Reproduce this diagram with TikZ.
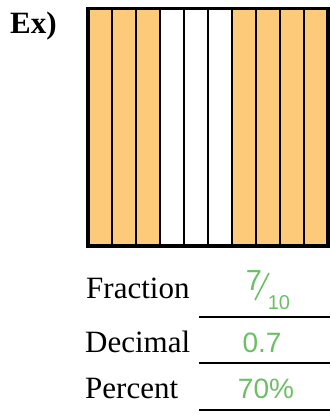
\documentclass[tikz,border=0pt]{standalone}
\usepackage{fontspec}
\setmainfont{Liberation Serif}
\newfontfamily\valfont{Liberation Sans}
\definecolor{barorange}{RGB}{253,202,122}
\definecolor{valgreen}{RGB}{108,190,103}
\tikzset{
  lbl/.style={anchor=base west,inner sep=0pt,font=\fontsize{31}{36}\selectfont},
  val/.style={anchor=base,inner sep=0pt,text=valgreen,font=\valfont\fontsize{28}{33}\selectfont},
  rule/.style={line width=1.8pt}
}
\begin{document}
\begin{tikzpicture}[x=1pt,y=-1pt]
  \useasboundingbox (0,0) rectangle (330,413);
  \node[anchor=base west,inner sep=0pt,font=\fontsize{31}{36}\selectfont\bfseries] (ex) at (10,33) {Ex)};
  % ten strips, 7 shaded
  \foreach \i/\c in {0/barorange,1/barorange,2/barorange,3/white,4/white,5/white,6/barorange,7/barorange,8/barorange,9/barorange} {
    \fill[\c] (88+24*\i,8.5) rectangle (112+24*\i,246);
  }
  \foreach \i in {1,...,9} {
    \draw[line width=1.3pt] (88+24*\i,8.5) -- (88+24*\i,246);
  }
  \draw[line width=3.6pt] (88,8.5) rectangle (328,246);
  \node[lbl] (frac) at (86,298) {Fraction};
  \node[lbl] (dec) at (85,352) {Decimal};
  \node[lbl] (pct) at (85,398) {Percent};
  \node[val,font=\valfont\fontsize{29}{34}\selectfont] (num) at (254,290) {7};
  \node[val,font=\valfont\fontsize{20}{24}\selectfont] (den) at (279,309) {10};
  \draw[valgreen,line width=1.6pt] (255,300) -- (269,273);
  \node[val] (decval) at (262,352) {0.7};
  \node[val] (pctval) at (266,398) {70\%};
  \draw[rule] (199,317) -- (330,317);
  \draw[rule] (199,363) -- (330,363);
  \draw[rule] (199,410) -- (330,410);
\end{tikzpicture}
\end{document}
